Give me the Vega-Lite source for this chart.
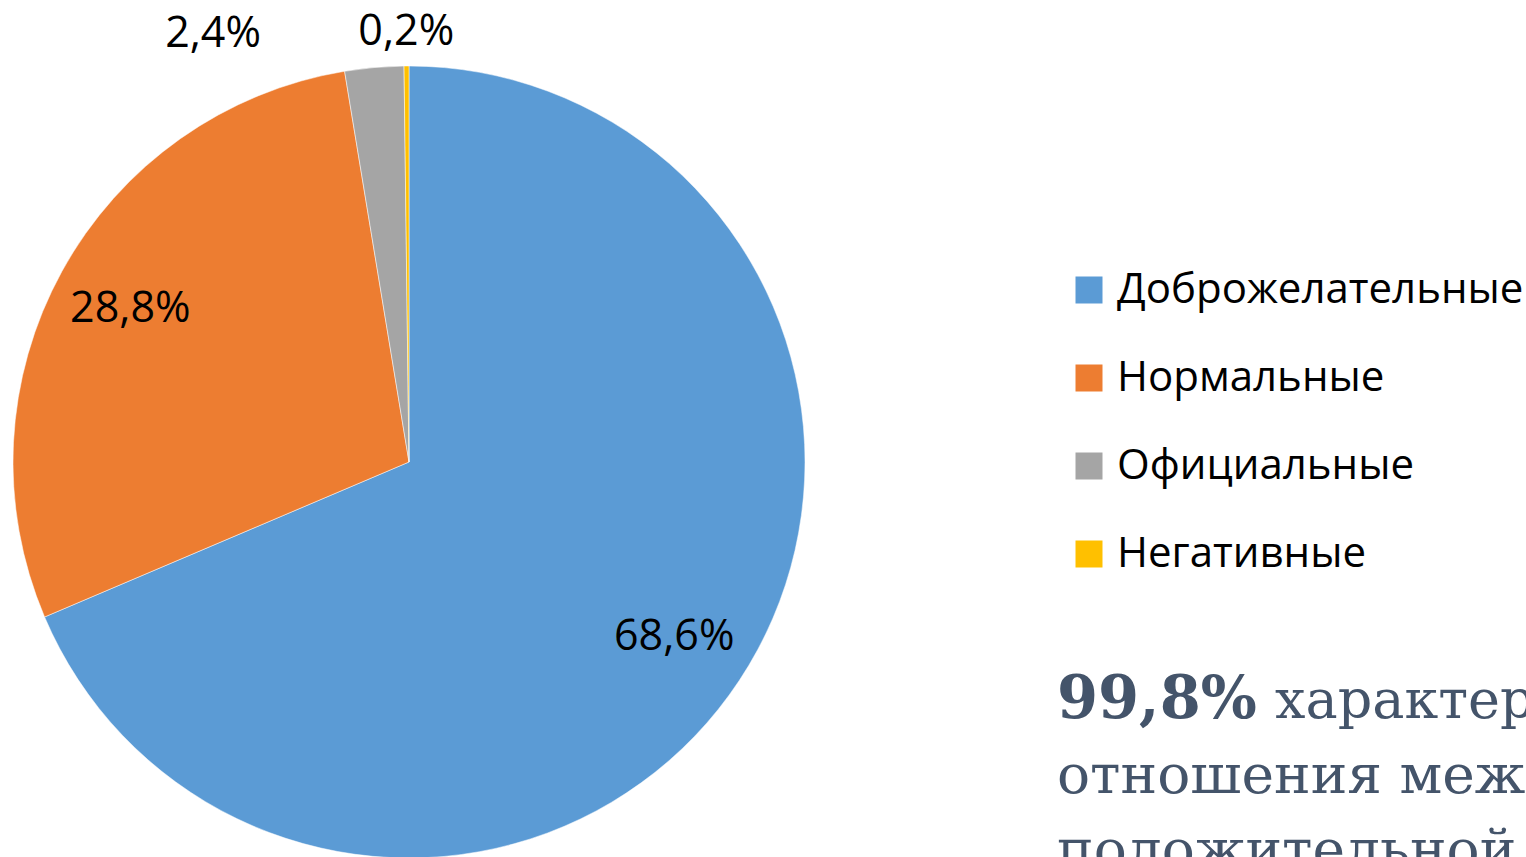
{
  "$schema": "https://vega.github.io/schema/vega-lite/v6.json",
  "width": 818,
  "height": 924,
  "autosize": {"type": "none"},
  "padding": {"left": 0, "top": 0, "right": 708, "bottom": 0},
  "background": "white",
  "config": {"view": {"stroke": null}},
  "data": {
    "values": [
      {"category": "Доброжелательные", "value": 68.6, "label": "68,6%", "rank": 1},
      {"category": "Нормальные", "value": 28.8, "label": "28,8%", "rank": 2},
      {"category": "Официальные", "value": 2.4, "label": "2,4%", "rank": 3},
      {"category": "Негативные", "value": 0.2, "label": "0,2%", "rank": 4}
    ]
  },
  "layer": [
    {
      "mark": {"type": "arc", "outerRadius": 396, "stroke": "white", "strokeWidth": 0.5},
      "encoding": {
        "theta": {"field": "value", "type": "quantitative", "stack": true},
        "order": {"field": "rank", "type": "quantitative"},
        "color": {
          "field": "category",
          "type": "nominal",
          "scale": {
            "domain": ["Доброжелательные", "Нормальные", "Официальные", "Негативные"],
            "range": ["#5B9BD5", "#ED7D31", "#A5A5A5", "#FFC000"]
          },
          "legend": {
            "orient": "none",
            "legendX": 1068,
            "legendY": 269,
            "title": null,
            "symbolType": "square",
            "symbolSize": 729,
            "symbolStrokeWidth": 0,
            "labelFont": "Open Sans",
            "labelFontSize": 42,
            "labelColor": "black",
            "labelOffset": 7,
            "labelLimit": 0,
            "rowPadding": 46,
            "padding": 0
          }
        }
      }
    },
    {
      "mark": {"type": "text", "radius": 318, "font": "Open Sans", "fontSize": 43, "color": "black", "align": "center", "baseline": "middle"},
      "encoding": {
        "theta": {"field": "value", "type": "quantitative", "stack": true},
        "order": {"field": "rank", "type": "quantitative"},
        "detail": {"field": "category", "type": "nominal"},
        "text": {"condition": {"test": "datum.value > 10", "field": "label"}, "value": ""}
      }
    },
    {
      "mark": {"type": "text", "radius": 432, "font": "Open Sans", "fontSize": 43, "color": "black", "align": "center", "baseline": "middle", "dy": 2},
      "encoding": {
        "theta": {"field": "value", "type": "quantitative", "stack": true},
        "order": {"field": "rank", "type": "quantitative"},
        "detail": {"field": "category", "type": "nominal"},
        "text": {"condition": {"test": "datum.value < 1", "field": "label"}, "value": ""}
      }
    },
    {
      "mark": {"type": "text", "radius": 432, "dx": -158, "dy": 2, "font": "Open Sans", "fontSize": 43, "color": "black", "align": "center", "baseline": "middle"},
      "encoding": {
        "theta": {"field": "value", "type": "quantitative", "stack": true},
        "order": {"field": "rank", "type": "quantitative"},
        "detail": {"field": "category", "type": "nominal"},
        "text": {"condition": {"test": "datum.value > 1 && datum.value < 10", "field": "label"}, "value": ""}
      }
    },
    {
      "data": {"values": [{"t": "99,8%"}]},
      "mark": {"type": "text", "font": "DejaVu Serif", "fontSize": 59, "fontWeight": "bold", "color": "#44546A", "align": "left", "baseline": "alphabetic"},
      "encoding": {"text": {"field": "t"}, "x": {"value": 1057}, "y": {"value": 718}}
    },
    {
      "data": {"values": [{"t": "характеризуют"}]},
      "mark": {"type": "text", "font": "DejaVu Serif", "fontSize": 54, "color": "#44546A", "align": "left", "baseline": "alphabetic"},
      "encoding": {"text": {"field": "t"}, "x": {"value": 1275}, "y": {"value": 718}}
    },
    {
      "data": {"values": [{"t": "отношения между"}]},
      "mark": {"type": "text", "font": "DejaVu Serif", "fontSize": 55, "color": "#44546A", "align": "left", "baseline": "alphabetic"},
      "encoding": {"text": {"field": "t"}, "x": {"value": 1057}, "y": {"value": 793}}
    },
    {
      "data": {"values": [{"t": "положительной"}]},
      "mark": {"type": "text", "font": "DejaVu Serif", "fontSize": 55, "color": "#44546A", "align": "left", "baseline": "alphabetic"},
      "encoding": {"text": {"field": "t"}, "x": {"value": 1057}, "y": {"value": 868}}
    }
  ]
}
